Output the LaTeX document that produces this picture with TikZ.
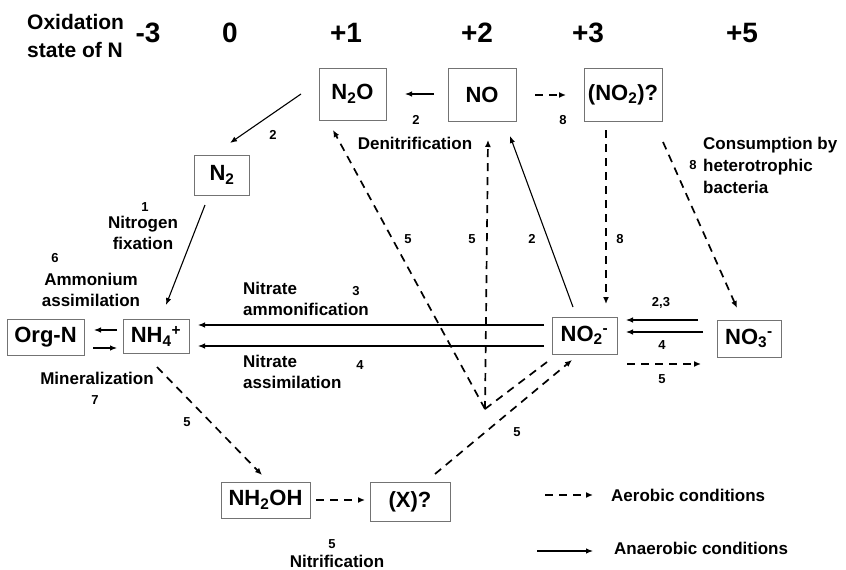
\documentclass[tikz,border=0pt]{standalone}
\usepackage{fontspec}
\setmainfont{Liberation Sans}
\usetikzlibrary{arrows.meta}
\begin{document}
\begin{tikzpicture}[x=1pt,y=-1pt,
 box/.style={draw=black!55, line width=0.9pt, inner sep=0pt, font=\fontsize{22}{24}\selectfont\bfseries},
 lab/.style={font=\fontsize{17}{21}\selectfont\bfseries, inner sep=0pt},
 num/.style={font=\fontsize{13}{15}\selectfont\bfseries, inner sep=0pt},
 hdr/.style={font=\fontsize{28}{30}\selectfont\bfseries, inner sep=0pt},
 sarr/.style={line width=1.1pt, -{Latex[length=7pt,width=5.5pt]}},
 darr/.style={line width=1.7pt, dash pattern=on 8pt off 6pt, -{Latex[length=7pt,width=6pt]}},
 dline/.style={line width=1.7pt, dash pattern=on 8pt off 6pt},
 sline/.style={line width=1.1pt}]
\useasboundingbox (0,0) rectangle (846,570);

% header
\node[font=\fontsize{21}{28}\selectfont\bfseries, inner sep=0pt, align=left, anchor=west] (hd) at (27,36) {Oxidation\\state of N};
\node[hdr] (hm3) at (148,33) {-3};
\node[hdr] (h0) at (230,33) {0};
\node[hdr] (h1) at (346,33) {+1};
\node[hdr] (h2) at (477,33) {+2};
\node[hdr] (h3) at (588,33) {+3};
\node[hdr] (h5) at (742,33) {+5};

% boxes
\node[box, minimum width=67pt, minimum height=52pt] (N2O) at (352.5,94) {N\textsubscript{2}O};
\node[box, minimum width=68pt, minimum height=53pt] (NO) at (482,94.5) {NO};
\node[box, minimum width=78pt, minimum height=53pt] (NOtwo) at (623,94.5) {(NO\textsubscript{2})?};
\node[box, minimum width=55pt, minimum height=40pt] (N2) at (222,175) {N\textsubscript{2}};
\node[box, minimum width=77pt, minimum height=36pt] (OrgN) at (45.5,337) {Org-N};
\node[box, minimum width=66pt, minimum height=34pt] (NH4) at (156,336) {NH\textsubscript{4}\textsuperscript{+}};
\node[box, minimum width=65pt, minimum height=37pt] (NO2m) at (584.5,335.5) {NO\textsubscript{2}\textsuperscript{-}};
\node[box, minimum width=64pt, minimum height=37pt] (NO3m) at (749,338.5) {NO\textsubscript{3}\textsuperscript{-}};
\node[box, minimum width=89pt, minimum height=36pt] (NH2OH) at (265.5,500) {NH\textsubscript{2}OH};
\node[box, minimum width=80pt, minimum height=39pt] (X) at (410,501.5) {(X)?};

% coordinates
\coordinate (a1s) at (434,94);   \coordinate (a1e) at (405,94);
\coordinate (a2s) at (301,94);   \coordinate (a2e) at (230,143);
\coordinate (a3s) at (535,95);   \coordinate (a3e) at (566,95);
\coordinate (a4s) at (205,205);  \coordinate (a4e) at (166,305);
\coordinate (a5s) at (117,330);  \coordinate (a5e) at (94,330);
\coordinate (a6s) at (93,348);   \coordinate (a6e) at (117,348);
\coordinate (a7s) at (544,325);  \coordinate (a7e) at (198,325);
\coordinate (a8s) at (544,346);  \coordinate (a8e) at (198,346);
\coordinate (a9s) at (698,320);  \coordinate (a9e) at (626,320);
\coordinate (a10s) at (703,332); \coordinate (a10e) at (626,332);
\coordinate (a11s) at (627,364); \coordinate (a11e) at (701,364);
\coordinate (a12s) at (606,130); \coordinate (a12e) at (606,304);
\coordinate (a13s) at (663,142); \coordinate (a13e) at (737,308);
\coordinate (a14s) at (573,307); \coordinate (a14e) at (510,136);
\coordinate (J) at (485,409);
\coordinate (a15e) at (488,140);
\coordinate (a16e) at (333,130);
\coordinate (a17e) at (547,362);
\coordinate (a18s) at (435,474); \coordinate (a18e) at (572,360);
\coordinate (a19s) at (157,367); \coordinate (a19e) at (262,475);
\coordinate (a20s) at (316,500); \coordinate (a20e) at (365,500);
\coordinate (l1s) at (545,495);  \coordinate (l1e) at (593,495);
\coordinate (l2s) at (537,551);  \coordinate (l2e) at (593,551);

% solid arrows
\draw[sarr] (a1s) -- (a1e);
\draw[sarr] (a2s) -- (a2e);
\draw[sarr] (a4s) -- (a4e);
\draw[sarr] (a5s) -- (a5e);
\draw[sarr] (a6s) -- (a6e);
\draw[sarr] (a7s) -- (a7e);
\draw[sarr] (a8s) -- (a8e);
\draw[sarr] (a9s) -- (a9e);
\draw[sarr] (a10s) -- (a10e);
\draw[sarr] (a14s) -- (a14e);

% dashed arrows
\draw[darr] (a3s) -- (a3e);
\draw[darr] (a11s) -- (a11e);
\draw[darr] (a12s) -- (a12e);
\draw[darr] (a13s) -- (a13e);
\draw[darr] (J) -- (a15e);
\draw[darr] (J) -- (a16e);
\draw[dline] (J) -- (a17e);
\draw[darr] (a18s) -- (a18e);
\draw[darr] (a19s) -- (a19e);
\draw[darr] (a20s) -- (a20e);

% labels
\node[num] (n1) at (273,135) {2};
\node[num] (n2) at (416,120) {2};
\node[lab] (den) at (415,143) {Denitrification};
\node[num] (n3) at (563,120) {8};
\node[lab, anchor=west, align=left, font=\fontsize{17}{22}\selectfont\bfseries] (cons) at (703,165) {Consumption by\\heterotrophic\\bacteria};
\node[num] (n4) at (693,165) {8};
\node[num] (n5) at (145,207) {1};
\node[lab, align=center] (fix) at (143,232.5) {Nitrogen\\fixation};
\node[num] (n6) at (55,258) {6};
\node[lab, align=center] (amas) at (91,289.5) {Ammonium\\assimilation};
\node[lab, anchor=west, align=left] (namm) at (243,299) {Nitrate\\ammonification};
\node[num] (n7) at (356,291) {3};
\node[lab, anchor=west, align=left] (nas) at (243,372) {Nitrate\\assimilation};
\node[num] (n8) at (360,365) {4};
\node[lab] (min) at (97,378) {Mineralization};
\node[num] (n9) at (95,400) {7};
\node[num] (n10) at (408,239) {5};
\node[num] (n11) at (472,239) {5};
\node[num] (n12) at (532,239) {2};
\node[num] (n13) at (620,239) {8};
\node[num] (n14) at (661,303) {2,3};
\node[num] (n15) at (662,345) {4};
\node[num] (n16) at (662,379) {5};
\node[num] (n17) at (187,422) {5};
\node[num] (n18) at (517,432) {5};
\node[num] (n19) at (332,544) {5};
\node[lab] (nit) at (337,561) {Nitrification};

% legend
\draw[darr] (l1s) -- (l1e);
\node[lab, anchor=west] (aer) at (611,495) {Aerobic conditions};
\draw[sarr] (l2s) -- (l2e);
\node[lab, anchor=west] (anaer) at (614,548) {Anaerobic conditions};
\end{tikzpicture}
\end{document}
